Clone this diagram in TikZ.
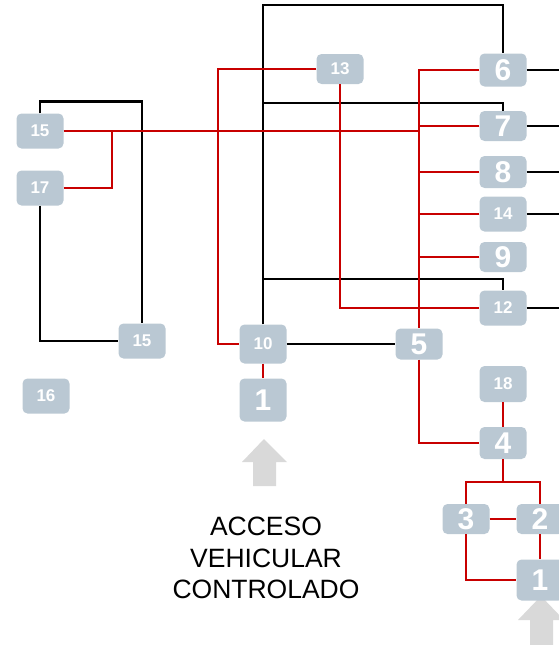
\documentclass[tikz,border=0pt]{standalone}
\usepackage{fontspec}
\setmainfont{Liberation Sans}
\usetikzlibrary{positioning}

\definecolor{boxgray}{RGB}{186,200,211}
\definecolor{linkred}{RGB}{200,0,0}
\definecolor{entrygray}{RGB}{217,217,217}

\begin{document}
\begin{tikzpicture}[
    x=1pt, y=-1pt,
    box/.style={rectangle, rounded corners=5pt, fill=boxgray, text=white,
        minimum width=47pt, minimum height=33pt, inner sep=0pt},
    bigbox/.style={box, font=\fontsize{30}{30}\selectfont\bfseries},
    smallbox/.style={box, minimum height=35pt, font=\fontsize{17}{17}\selectfont\bfseries},
    blackline/.style={draw=black, line width=2.5pt},
    redline/.style={draw=linkred, line width=2.2pt},
    entry/.style={fill=entrygray}
]
\useasboundingbox (0,0) rectangle (558,645);

% Entry arrows (under the boxes)
\fill[entry] (264,439) -- (287,462) -- (276,462) -- (276,486) -- (253,486) -- (253,462) -- (242,462) -- cycle;
\fill[entry] (541,596) -- (564,620) -- (553,620) -- (553,645) -- (530,645) -- (530,620) -- (518,620) -- cycle;

% Left group
\node[smallbox] (n15a) at (40,131) {15};
\node[smallbox] (n17) at (40,188) {17};
\node[smallbox] (n15b) at (142,341) {15};
\node[smallbox] (n16) at (46,396) {16};

% Middle group
\node[smallbox, minimum height=30pt] (n13) at (340,69) {13};
\node[smallbox, minimum height=39pt] (n10) at (263,344) {10};
\node[bigbox, minimum height=43pt] (n1) at (263,400) {1};
\node[bigbox, minimum height=31pt] (n5) at (419,344) {5};

% Right column
\node[bigbox] (n6) at (503,70) {6};
\node[bigbox, minimum height=30pt] (n7) at (503,126) {7};
\node[bigbox, minimum height=32pt] (n8) at (503,172) {8};
\node[smallbox] (n14) at (503,214) {14};
\node[bigbox, minimum height=30pt] (n9) at (503,257) {9};
\node[smallbox] (n12) at (503,308) {12};
\node[smallbox, minimum height=36pt] (n18) at (503,384) {18};
\node[bigbox, minimum height=32pt] (n4) at (503,443) {4};
\node[bigbox, minimum height=30pt] (n3) at (466,519) {3};
\node[bigbox, minimum height=30pt] (n2) at (540,519) {2};
\node[bigbox, minimum height=41pt] (n1r) at (540,580) {1};

% Caption
\node[align=center, font=\fontsize{26.5}{31.5}\selectfont] (access) at (266,558) {ACCESO\\VEHICULAR\\CONTROLADO};

% Helper points
\coordinate (rim) at (560,0);
\coordinate (topline) at (0,5);
\coordinate (bus7) at (263,103);
\coordinate (bus12) at (263,279);
\coordinate (tap17) at (112,131);
\coordinate (fork) at (503,482);

% Black links
\draw[blackline] (n15a.north) -- ++(0,-12) -| (n15b.north);
\draw[blackline] (n17.south) |- (n15b.west);
\draw[blackline] (n10.north) |- (n6.north |- topline) -- (n6.north);
\draw[blackline] (bus7) -| (n7.north);
\draw[blackline] (bus12) -| (n12.north);
\draw[blackline] (n10.east) -- (n5.west);
\draw[blackline] (n6.east) -- (n6.east -| rim);
\draw[blackline] (n7.east) -- (n7.east -| rim);
\draw[blackline] (n8.east) -- (n8.east -| rim);
\draw[blackline] (n14.east) -- (n14.east -| rim);
\draw[blackline] (n12.east) -- (n12.east -| rim);

% Red links
\draw[redline] (n15a.east) -- (n15a.east -| n5);
\draw[redline] (n17.east) -| (tap17);
\draw[redline] (n6.west) -| (n5.north);
\draw[redline] (n7.west) -- (n7.west -| n5);
\draw[redline] (n8.west) -- (n8.west -| n5);
\draw[redline] (n14.west) -- (n14.west -| n5);
\draw[redline] (n9.west) -- (n9.west -| n5);
\draw[redline] (n13.west) -| ([xshift=-21pt]n10.west) -- (n10.west);
\draw[redline] (n13.south) |- (n12.west);
\draw[redline] (n10) -- (n1);
\draw[redline] (n5.south) |- (n4.west);
\draw[redline] (n18) -- (n4);
\draw[redline] (n4.south) -- (fork);
\draw[redline] (n3.north) |- (fork) -| (n2.north);
\draw[redline] (n3) -- (n2);
\draw[redline] (n3.south) |- (n1r.west);
\draw[redline] (n2) -- (n1r);

\end{tikzpicture}
\end{document}
